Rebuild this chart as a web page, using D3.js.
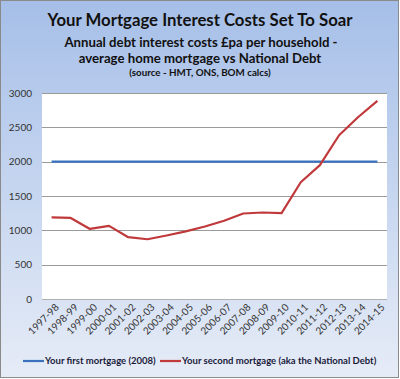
<!DOCTYPE html>
<html>
<head>
<meta charset="utf-8">
<script src="https://cdn.jsdelivr.net/npm/d3@7"></script>
<style>
  body { margin: 0; }
  svg { display: block; font-family: Lato, "Open Sans", sans-serif; }
</style>
</head>
<body>
<svg id="chart" width="400" height="379"></svg>
<script>
var years = ["1997-98", "1998-99", "1999-00", "2000-01", "2001-02", "2002-03", "2003-04",
  "2004-05", "2005-06", "2006-07", "2007-08", "2008-09", "2009-10", "2010-11",
  "2011-12", "2012-13", "2013-14", "2014-15"];
var firstMortgage = [2000, 2000, 2000, 2000, 2000, 2000, 2000, 2000, 2000, 2000,
  2000, 2000, 2000, 2000, 2000, 2000, 2000, 2000];
var secondMortgage = [1190, 1180, 1020, 1065, 900, 870, 925, 985, 1055, 1140,
  1245, 1260, 1250, 1700, 1950, 2385, 2650, 2885];
var yTicks = [0, 500, 1000, 1500, 2000, 2500, 3000];
var seriesNames = ["Your first mortgage (2008)", "Your second mortgage (aka the National Debt)"];
var seriesColors = ["#3a72c0", "#c0393b"];

var svg = d3.select("#chart");

// background gradient + border
var defs = svg.append("defs");
var grad = defs.append("linearGradient")
    .attr("id", "bg").attr("x1", 0).attr("y1", 0).attr("x2", 0).attr("y2", 1);
grad.append("stop").attr("offset", "0%").attr("stop-color", "#a6bfe8");
grad.append("stop").attr("offset", "100%").attr("stop-color", "#e6ecf7");

svg.append("rect")
    .attr("x", 0.5).attr("y", 0.5)
    .attr("width", 398).attr("height", 377)
    .attr("fill", "url(#bg)")
    .attr("stroke", "#8a8a8a");

// titles
svg.append("text").attr("x", 200).attr("y", 26)
    .attr("text-anchor", "middle").attr("font-size", 16.5).attr("font-weight", "bold")
    .attr("textLength", 305).attr("lengthAdjust", "spacingAndGlyphs")
    .attr("fill", "#111").text("Your Mortgage Interest Costs Set To Soar");
svg.append("text").attr("x", 201).attr("y", 47)
    .attr("text-anchor", "middle").attr("font-size", 13.2).attr("font-weight", "bold")
    .attr("fill", "#111").text("Annual debt interest costs £pa per household -");
svg.append("text").attr("x", 200).attr("y", 63)
    .attr("text-anchor", "middle").attr("font-size", 13.2).attr("font-weight", "bold")
    .attr("fill", "#111").text("average home mortgage vs National Debt");
svg.append("text").attr("x", 200).attr("y", 76)
    .attr("text-anchor", "middle").attr("font-size", 9.8).attr("font-weight", "bold")
    .attr("fill", "#111").text("(source - HMT, ONS, BOM calcs)");

var plotLeft = 42, plotRight = 387, plotTop = 93, plotBottom = 299;

var x = d3.scaleBand().domain(years).range([plotLeft, plotRight]);
var y = d3.scaleLinear().domain([0, 3000]).range([plotBottom, plotTop]);

// plot area
svg.append("rect")
    .attr("x", plotLeft).attr("y", plotTop)
    .attr("width", plotRight - plotLeft).attr("height", plotBottom - plotTop)
    .attr("fill", "#fff");

// gridlines
svg.append("g").selectAll("line")
    .data(yTicks)
    .enter().append("line")
    .attr("x1", plotLeft).attr("x2", plotRight)
    .attr("y1", function (d) { return Math.round(y(d)) + 0.5; })
    .attr("y2", function (d) { return Math.round(y(d)) + 0.5; })
    .attr("stroke", function (d) { return d === 0 ? "#b0b0b0" : "#9a9a9a"; })
    .attr("stroke-width", 1);

// y axis labels
var yAxis = d3.axisLeft(y).tickValues(yTicks).tickFormat(d3.format("d"))
    .tickSize(0).tickPadding(10);
var ya = svg.append("g")
    .attr("transform", "translate(" + plotLeft + ",0)")
    .call(yAxis);
ya.select(".domain").remove();
ya.selectAll("text").attr("font-size", 10).attr("fill", "#333")
    .attr("font-family", "Lato, sans-serif");

// x axis labels, rotated
var xAxis = d3.axisBottom(x).tickSize(0).tickPadding(0);
var xa = svg.append("g")
    .attr("transform", "translate(0," + plotBottom + ")")
    .call(xAxis);
xa.select(".domain").remove();
xa.selectAll("text")
    .attr("font-size", 10).attr("fill", "#333")
    .attr("font-family", "Lato, sans-serif")
    .attr("text-anchor", "end")
    .attr("dy", 0)
    .attr("transform", "translate(8,9) rotate(-45)");

// lines
var line = d3.line()
    .x(function (d, i) { return x(years[i]) + x.bandwidth() / 2; })
    .y(function (d) { return y(d); });

[firstMortgage, secondMortgage].forEach(function (s, i) {
  svg.append("path")
      .datum(s)
      .attr("d", line)
      .attr("fill", "none")
      .attr("stroke", seriesColors[i])
      .attr("stroke-width", 2.2)
      .attr("stroke-linejoin", "round");
});

// legend
var legendX = [23, 160];
var legend = svg.append("g").selectAll("g")
    .data(seriesNames)
    .enter().append("g")
    .attr("transform", function (d, i) { return "translate(" + legendX[i] + ",361)"; });
legend.append("line")
    .attr("x1", 0).attr("x2", 21)
    .attr("stroke", function (d, i) { return seriesColors[i]; })
    .attr("stroke-width", 2.2);
legend.append("text")
    .attr("x", 22).attr("dy", "0.35em")
    .attr("font-size", 9.5).attr("font-weight", "bold")
    .attr("fill", "#1a1a3a")
    .text(function (d) { return d; });
</script>
</body>
</html>
